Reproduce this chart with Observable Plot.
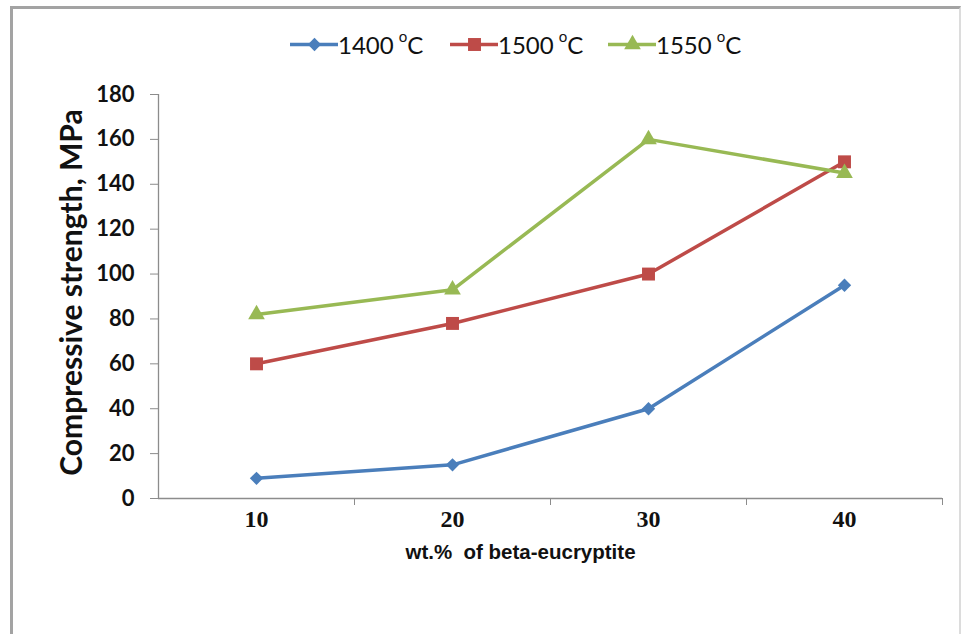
<!DOCTYPE html>
<html>
<head>
<meta charset="utf-8">
<script src="https://cdn.jsdelivr.net/npm/d3@7"></script>
<script src="https://cdn.jsdelivr.net/npm/@observablehq/plot@0.6"></script>
<style>
  html, body { margin: 0; padding: 0; background: #fff; }
  #wrap { position: relative; width: 966px; height: 634px; overflow: hidden; background: #fff; }
  #frame { position: absolute; left: 10px; top: 6px; width: 951px; height: 700px;
           border: 3px solid #a3a3a3; border-right: 2px solid #dcdcdc; box-sizing: border-box; }
  #legend { position: absolute; left: 0; top: 0; width: 966px; height: 60px; }
  #legend .item { position: absolute; top: 29px; height: 30px; display: flex; align-items: center;
                  font-family: Lato, sans-serif; font-size: 24px; color: #111; }
  #legend sup { font-size: 15px; position: relative; top: -3px; margin-left: 5px; }
  #chart { position: absolute; left: 0; top: 60px; }
</style>
</head>
<body>
<div id="wrap">
  <div id="frame"></div>
  <div id="legend"></div>
  <div id="chart"></div>
</div>
<script>
// ---- data ----
const wt = [10, 20, 30, 40];
const series = ["1400", "1500", "1550"];
const s1400 = [9, 15, 40, 95];
const s1500 = [60, 78, 100, 150];
const s1550 = [82, 93, 160, 145];
const yTicks = [0, 20, 40, 60, 80, 100, 120, 140, 160, 180];
const colors = ["#4A7EBB", "#BE4B48", "#98B954"];
const symbols = ["diamond2", "square", "triangle"];
const markerR = [6, 7.3, 6.2];
const yTitle = "Compressive strength, MPa";
const xTitle = "wt.%  of beta-eucryptite";

const values = [s1400, s1500, s1550];
const rows = [];
series.forEach((s, i) => wt.forEach((w, j) => rows.push({series: s, wt: w, v: values[i][j]})));

// ---- legend ----
const legend = document.getElementById("legend");
const legendX = [290, 450, 608];
series.forEach((s, i) => {
  const item = document.createElement("div");
  item.className = "item";
  item.style.left = legendX[i] + "px";
  const sw = Plot.plot({
    width: 48, height: 30, margin: 0,
    x: {domain: [0, 1], range: [0, 48], axis: null},
    y: {domain: [0, 1], range: [30, 0], axis: null},
    marks: [
      Plot.ruleY([0.5], {x1: 0, x2: 1, stroke: colors[i], strokeWidth: 3.5}),
      Plot.dot([{x: 0.5, y: 0.5}], {x: "x", y: "y", symbol: symbols[i], fill: colors[i], r: markerR[i]})
    ]
  });
  sw.style.display = "block";
  item.appendChild(sw);
  const t = document.createElement("span");
  t.innerHTML = s + "<sup>o</sup>C";
  item.appendChild(t);
  legend.appendChild(item);
});

// ---- chart ----
const H = 574;
const dotMarks = series.map((s, i) =>
  Plot.dot(rows.filter(d => d.series === s), {x: "wt", y: "v", symbol: () => symbols[i],
    fill: colors[i], r: markerR[i], stroke: "none"}));
const chart = Plot.plot({
  width: 966,
  height: H,
  marginLeft: 158,
  marginRight: 24,
  marginTop: 34,
  marginBottom: H - 438,
  style: {background: "transparent", overflow: "visible"},
  x: {type: "linear", domain: [5, 45]},
  y: {domain: [0, 180]},
  color: {domain: series, range: colors},
  symbol: {domain: symbols, range: symbols},
  marks: [
    Plot.ruleX([5], {y1: 0, y2: 180, stroke: "#8c8c8c", strokeWidth: 1.3}),
    Plot.ruleY([0], {x1: 5, x2: 45, stroke: "#8c8c8c", strokeWidth: 1.3}),
    Plot.axisY({ticks: yTicks, tickSize: 8, tickPadding: 16, stroke: "#8c8c8c",
                fontSize: 22, fontWeight: "bold", fontFamily: "Lato", fill: "#111", label: null}),
    Plot.axisX({ticks: [15, 25, 35, 45], tickSize: 7, stroke: "#8c8c8c", tickFormat: () => "", label: null}),
    Plot.axisX({ticks: wt, tickSize: 0, tickPadding: 11, fontSize: 24, fontWeight: "bold",
                fontFamily: "Liberation Serif", fill: "#111", label: null}),
    Plot.text([yTitle], {frameAnchor: "left", rotate: -90, textAnchor: "middle", dx: -86, dy: -4,
                         fontSize: 30, fontWeight: "bold", fontFamily: "Lato", fill: "#111"}),
    Plot.text([xTitle], {frameAnchor: "bottom", dx: -30, dy: 60, fontSize: 20.5, fontWeight: "bold",
                         fontFamily: "Liberation Sans", fill: "#111"}),
    Plot.line(rows, {x: "wt", y: "v", z: "series", stroke: "series", strokeWidth: 3.5}),
    ...dotMarks
  ]
});
document.getElementById("chart").appendChild(chart);
</script>
</body>
</html>
